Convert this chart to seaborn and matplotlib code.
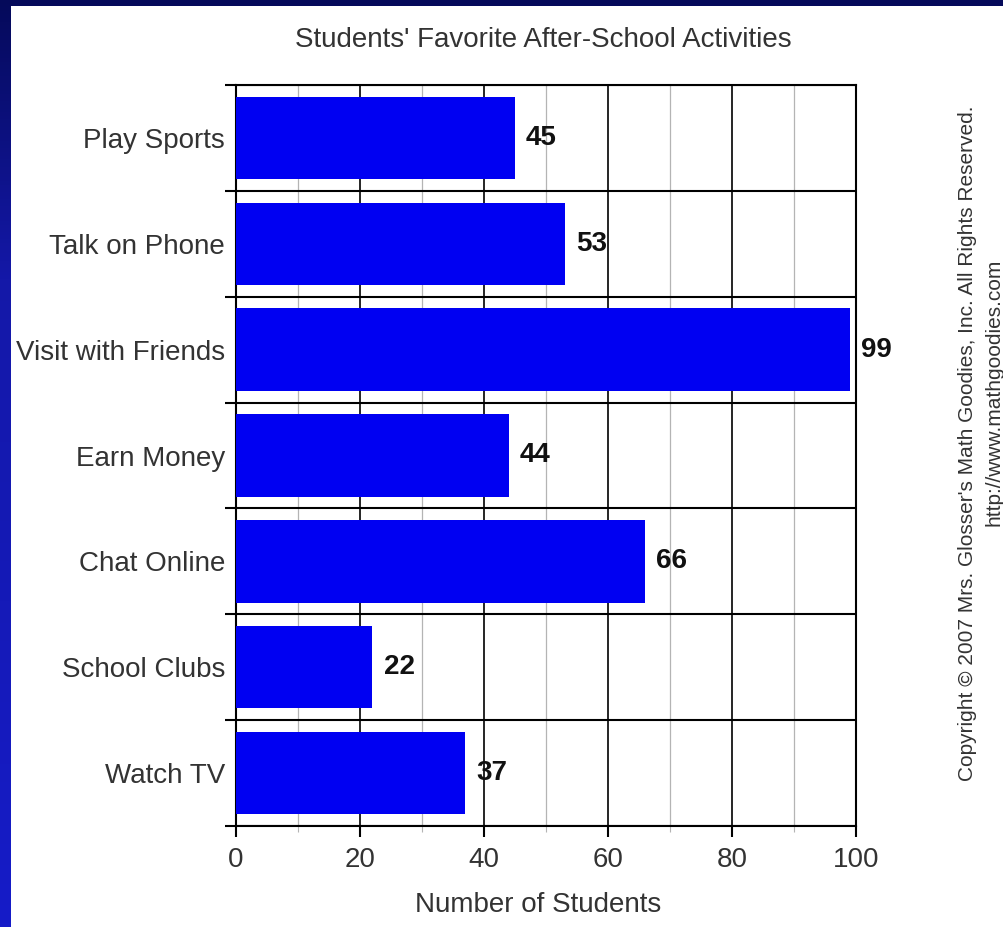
import numpy as np
import pandas as pd
import matplotlib
matplotlib.use("Agg")
import matplotlib.pyplot as plt
import seaborn as sns
from matplotlib.patches import Rectangle
from matplotlib.colors import LinearSegmentedColormap
from matplotlib.ticker import FixedLocator, MultipleLocator

# Survey results
activities = ["Play Sports", "Talk on Phone", "Visit with Friends", "Earn Money",
              "Chat Online", "School Clubs", "Watch TV"]
students = [45, 53, 99, 44, 66, 22, 37]
x_ticks = [0, 20, 40, 60, 80, 100]

title = "Students' Favorite After-School Activities"
x_label = "Number of Students"
copyright_line = "Copyright \u00a9 2007 Mrs. Glosser's Math Goodies, Inc. All Rights Reserved."
url_line = "http://www.mathgoodies.com"

df = pd.DataFrame({"activity": activities, "students": students})

sns.set_theme(style="white")
plt.rcParams["font.family"] = ["Liberation Sans", "DejaVu Sans"]

W, H = 1004, 927
fig = plt.figure(figsize=(W / 100, H / 100), dpi=100)

# Slide-style frame: blue gradient border with a white panel
bg = fig.add_axes([0, 0, 1, 1], zorder=-10)
frame_cmap = LinearSegmentedColormap.from_list(
    "frame", [(0.0, "#050a5a"), (0.3, "#1418a8"), (1.0, "#161cc8")])
bg.imshow(np.linspace(0, 1, 256).reshape(-1, 1), cmap=frame_cmap,
          aspect="auto", extent=[0, 1, 0, 1], origin="upper")
bg.add_patch(Rectangle((11 / W, 0), 1 - 11 / W, 1 - 6 / H,
                       facecolor="white", edgecolor="none"))
bg.set_xlim(0, 1)
bg.set_ylim(0, 1)
bg.axis("off")

ax = fig.add_axes([236 / W, 1 - 826 / H, 620 / W, 741 / H])
ax.set_facecolor("white")
sns.barplot(data=df, x="students", y="activity", orient="h", color="#0000f2",
            saturation=1, width=0.78, ax=ax, zorder=3, linewidth=0,
            edgecolor="#0000f2")

ax.set_xlim(0, 100)
ax.set_ylim(6.5, -0.5)
ax.set_axisbelow(True)

ax.xaxis.set_major_locator(FixedLocator(x_ticks))
ax.xaxis.set_minor_locator(MultipleLocator(10))
ax.yaxis.set_minor_locator(FixedLocator(np.arange(-0.5, 7, 1)))

ax.grid(which="major", axis="x", color="black", lw=1.2)
ax.grid(which="minor", axis="x", color="#b4b4b4", lw=0.9)
ax.grid(which="minor", axis="y", color="black", lw=1.5)

ax.tick_params(which="both", bottom=True, left=True)
ax.tick_params(axis="x", which="major", length=8, width=1.5, color="black",
               direction="out", labelsize=20, pad=7, labelcolor="#333333")
ax.tick_params(axis="x", which="minor", length=4, width=0.8, color="#b4b4b4",
               direction="out")
ax.tick_params(axis="y", which="major", length=0, labelsize=20, pad=8,
               labelcolor="#333333")
ax.tick_params(axis="y", which="minor", length=8, width=1.5, color="black",
               direction="out")

for sp in ax.spines.values():
    sp.set_visible(True)
    sp.set_color("black")
    sp.set_linewidth(1.5)

ax.bar_label(ax.containers[0], fmt="%d", padding=8, fontsize=20,
             fontweight="bold", color="#111111")

ax.set_xlabel("")
ax.set_ylabel("")

fig.text(543 / W, 1 - 40 / H, title, ha="center", va="center",
         fontsize=20, color="#333333")
fig.text(538 / W, 1 - 905 / H, x_label, ha="center", va="center",
         fontsize=20, color="#333333")
fig.text(968 / W, 1 - 443 / H, copyright_line, rotation=90, ha="center",
         va="center", fontsize=15, color="#333333")
fig.text(994 / W, 1 - 392 / H, url_line, rotation=90, ha="center",
         va="center", fontsize=15, color="#333333")

fig.savefig("out.png", dpi=100)
